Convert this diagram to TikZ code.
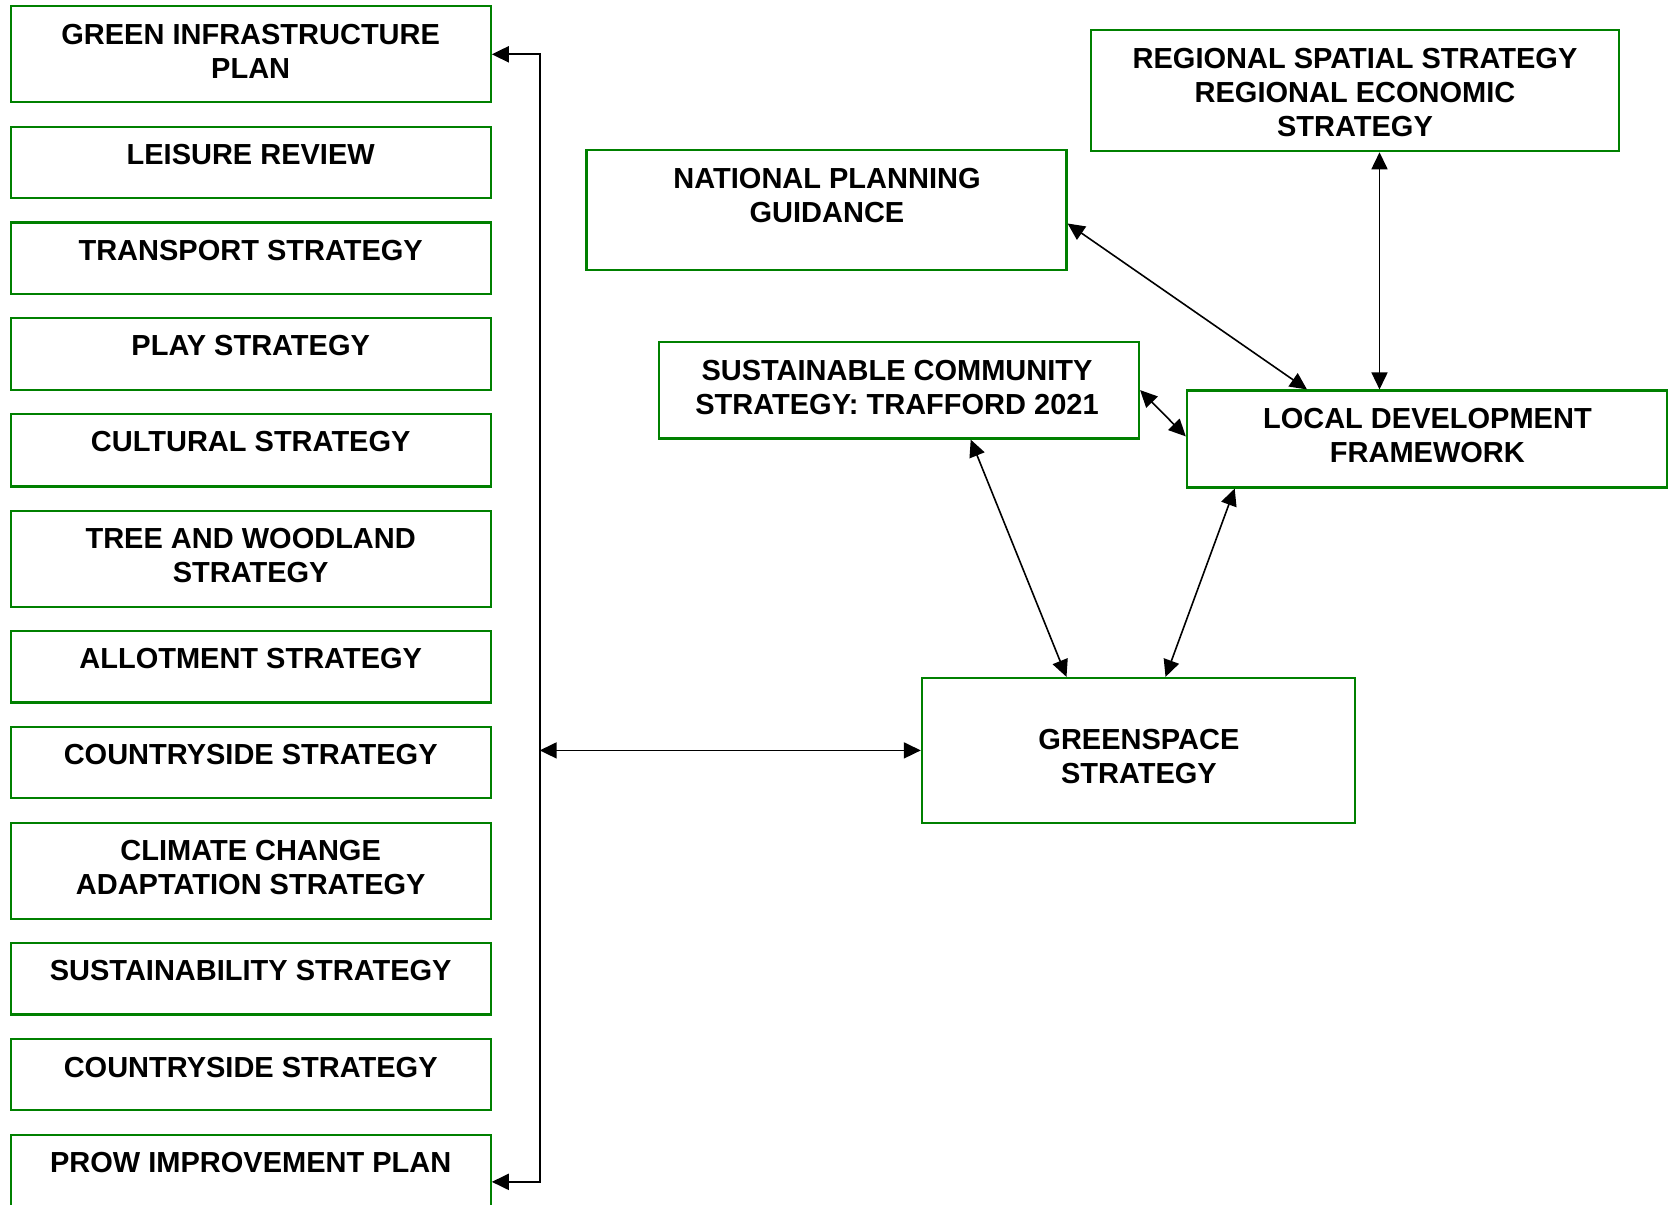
\documentclass[tikz,border=0pt]{standalone}
\usepackage{fontspec}
\setmainfont{Liberation Sans}
\usetikzlibrary{arrows.meta}
\definecolor{ggreen}{RGB}{0,128,0}
\tikzset{
  gbox/.style={draw=ggreen, line width=2.2pt, rectangle, inner sep=0pt, fill=none},
  lbox/.style={gbox, minimum width=480pt},
  txt/.style={align=center, inner sep=0pt, font=\fontsize{29}{34}\selectfont\bfseries},
  tip/.tip={Triangle[length=17pt 0 0,width=16pt 0 0]},
  conn/.style={line width=1.6pt, tip-tip},
  spine/.style={line width=2pt, -tip},
}
\begin{document}
\begin{tikzpicture}[x=1pt,y=-1pt]
\useasboundingbox (0,0) rectangle (1669,1204);
% left column
\node[lbox, minimum height=95.8pt] (b1) at (250.7,54.3) {};
\node[txt] (t1) at (250.7,51.1) {GREEN INFRASTRUCTURE\\PLAN};
\node[lbox, minimum height=71.3pt] (b2) at (250.7,162.35) {};
\node[txt] (t2) at (250.7,154.3) {LEISURE REVIEW};
\node[lbox, minimum height=71.3pt] (b3) at (250.7,258.15) {};
\node[txt] (t3) at (250.7,250.1) {TRANSPORT STRATEGY};
\node[lbox, minimum height=71.3pt] (b4) at (250.7,353.95) {};
\node[txt] (t4) at (250.7,345.9) {PLAY STRATEGY};
\node[lbox, minimum height=72.3pt] (b5) at (250.7,450.25) {};
\node[txt] (t5) at (250.7,441.7) {CULTURAL STRATEGY};
\node[lbox, minimum height=95.8pt] (b6) at (250.7,558.8) {};
\node[txt] (t6) at (250.7,555.6) {TREE AND WOODLAND\\STRATEGY};
\node[lbox, minimum height=71.3pt] (b7) at (250.7,666.85) {};
\node[txt] (t7) at (250.7,658.9) {ALLOTMENT STRATEGY};
\node[lbox, minimum height=71.3pt] (b8) at (250.7,762.65) {};
\node[txt] (t8) at (250.7,754.7) {COUNTRYSIDE STRATEGY};
\node[lbox, minimum height=95.8pt] (b9) at (250.7,870.7) {};
\node[txt] (t9) at (250.7,867.5) {CLIMATE CHANGE\\ADAPTATION STRATEGY};
\node[lbox, minimum height=71.3pt] (b10) at (250.7,978.75) {};
\node[txt] (t10) at (250.7,970.7) {SUSTAINABILITY STRATEGY};
\node[lbox, minimum height=71.3pt] (b11) at (250.7,1074.55) {};
\node[txt] (t11) at (250.7,1067.6) {COUNTRYSIDE STRATEGY};
\node[lbox, minimum height=71.3pt] (b12) at (250.7,1170.35) {};
\node[txt] (t12) at (250.7,1162.3) {PROW IMPROVEMENT PLAN};
% right side
\node[gbox, minimum width=528pt, minimum height=121.3pt] (reg) at (1355,90.5) {};
\node[txt] (treg) at (1355,92.6) {REGIONAL SPATIAL STRATEGY\\REGIONAL ECONOMIC\\STRATEGY};
\node[gbox, minimum width=480pt, minimum height=120.3pt] (npg) at (826.5,210.2) {};
\node[txt] (tnpg) at (827,195.9) {NATIONAL PLANNING\\GUIDANCE};
\node[gbox, minimum width=480pt, minimum height=96.8pt] (scs) at (899,390.1) {};
\node[txt] (tscs) at (897,387.4) {SUSTAINABLE COMMUNITY\\STRATEGY: TRAFFORD 2021};
\node[gbox, minimum width=480pt, minimum height=96.9pt] (ldf) at (1426.9,439) {};
\node[txt] (tldf) at (1427.4,435.3) {LOCAL DEVELOPMENT\\FRAMEWORK};
\node[gbox, minimum width=433pt, minimum height=144.8pt] (gs) at (1138.4,750.4) {};
\node[txt] (tgs) at (1138.9,756.8) {GREENSPACE\\STRATEGY};
% connectors
\coordinate (spinept) at (539.7,750.4);
\draw[spine] (spinept) |- (b1.east);
\draw[spine] (spinept) |- ([yshift=-11.5pt]b12.east);
\draw[line width=1.8pt, tip-tip] (spinept) -- (gs.west);
\draw[conn] ([xshift=24.5pt]reg.south) -- ([xshift=-47.4pt]ldf.north);
\draw[conn] ([yshift=-13.3pt]npg.east) -- ([xshift=-119.9pt]ldf.north);
\draw[conn] (scs.east) -- ([yshift=2.6pt]ldf.west);
\draw[conn] ([xshift=71.7pt]scs.south) -- ([xshift=-71.9pt]gs.north);
\draw[conn] ([xshift=-192.2pt]ldf.south) -- ([xshift=27.1pt]gs.north);
\end{tikzpicture}
\end{document}
